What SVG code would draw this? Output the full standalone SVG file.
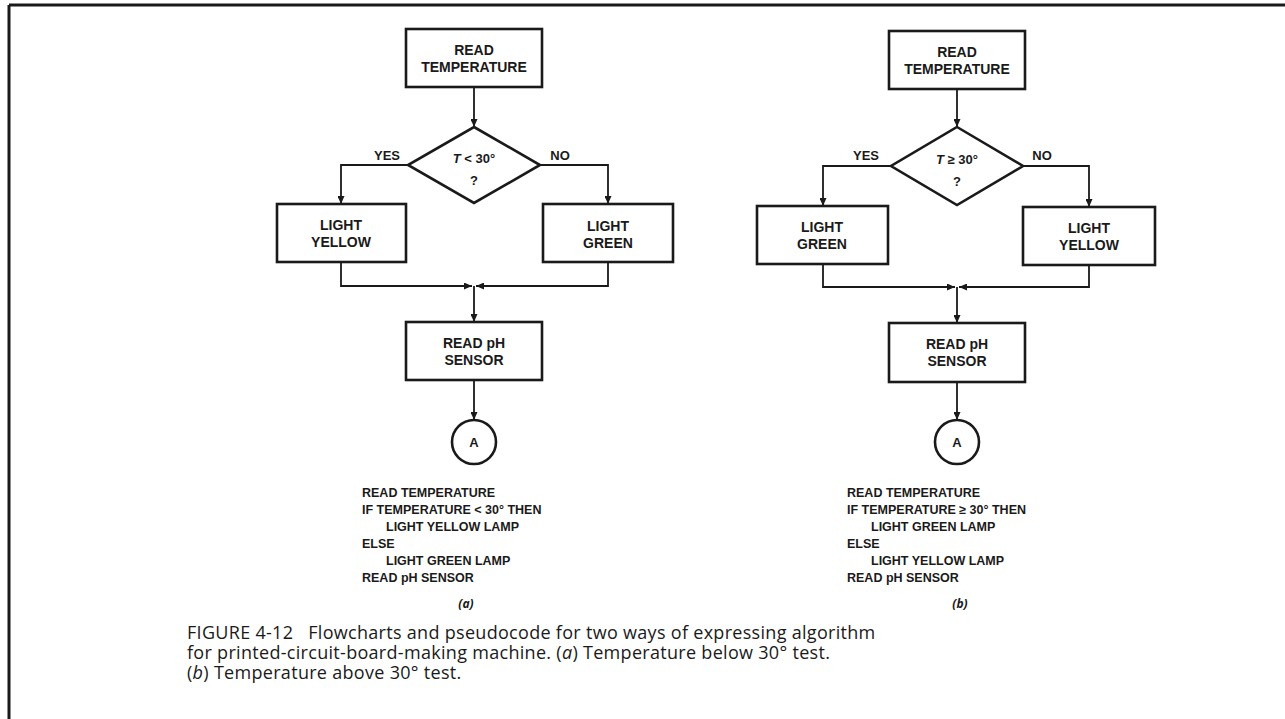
<svg xmlns="http://www.w3.org/2000/svg" width="1285" height="719" viewBox="0 0 1285 719">
<defs>
<marker id="ah" markerUnits="userSpaceOnUse" markerWidth="8" markerHeight="7" refX="8" refY="3.5" orient="auto">
<path d="M0,0 L8,3.5 L0,7 z" fill="#1a1a1a"/>
</marker>
<style>
.box{fill:#fff;stroke:#1a1a1a;stroke-width:2.6}
.ln{fill:none;stroke:#1a1a1a;stroke-width:1.8}
.lbl{font-family:"Liberation Sans",Arial,sans-serif;font-weight:bold;font-size:14px;fill:#1a1a1a;text-anchor:middle}
.yn{font-family:"Liberation Sans",Arial,sans-serif;font-weight:bold;font-size:13px;fill:#1a1a1a;text-anchor:middle}
.code{font-family:"Liberation Sans",Arial,sans-serif;font-weight:bold;font-size:12.5px;fill:#1a1a1a}
.cap{font-family:"Open Sans","Liberation Sans",sans-serif;font-size:18px;letter-spacing:0.3px;fill:#1a1a1a;white-space:pre}
.sub{font-family:"Open Sans","Liberation Sans",sans-serif;font-size:12px;font-style:italic;font-weight:bold;fill:#1a1a1a;text-anchor:middle}
</style>
</defs>
<rect x="0" y="0" width="1285" height="719" fill="#fff"/>
<g id="frame">
<line x1="9" y1="5" x2="1285" y2="5" stroke="#1a1a1a" stroke-width="3"/>
<line x1="9" y1="5" x2="9" y2="719" stroke="#1a1a1a" stroke-width="3"/>
</g>
<g id="connectors">
<line class="ln" x1="474" y1="87" x2="474" y2="127" marker-end="url(#ah)"/>
<polyline class="ln" points="408,165 341,165 341,204" marker-end="url(#ah)"/>
<polyline class="ln" points="540,165 608,165 608,204" marker-end="url(#ah)"/>
<polyline class="ln" points="341,262 341,286 472,286" marker-end="url(#ah)"/>
<polyline class="ln" points="608,262 608,286 476,286" marker-end="url(#ah)"/>
<line class="ln" x1="474" y1="286" x2="474" y2="322" marker-end="url(#ah)"/>
<line class="ln" x1="474" y1="380" x2="474" y2="420" marker-end="url(#ah)"/>
<line class="ln" x1="957" y1="89" x2="957" y2="127" marker-end="url(#ah)"/>
<polyline class="ln" points="891,166 823,166 823,206" marker-end="url(#ah)"/>
<polyline class="ln" points="1023,166 1089,166 1089,207" marker-end="url(#ah)"/>
<polyline class="ln" points="823,264 823,287 955,287" marker-end="url(#ah)"/>
<polyline class="ln" points="1089,265 1089,287 959,287" marker-end="url(#ah)"/>
<line class="ln" x1="957" y1="287" x2="957" y2="323" marker-end="url(#ah)"/>
<line class="ln" x1="957" y1="382" x2="957" y2="420" marker-end="url(#ah)"/>
</g>
<g id="a-read-temp"><rect class="box" x="406" y="29" width="136" height="58"/><text class="lbl" x="474" y="55">READ</text><text class="lbl" x="474" y="72">TEMPERATURE</text></g>
<g id="a-decision"><polygon class="box" points="474,127 540,165 474,203 408,165"/><text class="yn" x="474" y="163"><tspan font-style="italic">T</tspan> &lt; 30°</text><text class="yn" x="474" y="185">?</text></g>
<g id="a-yes"><text class="yn" x="387" y="160">YES</text></g>
<g id="a-no"><text class="yn" x="560" y="160">NO</text></g>
<g id="a-yellow"><rect class="box" x="277" y="204" width="129" height="58"/><text class="lbl" x="341" y="230">LIGHT</text><text class="lbl" x="341" y="247">YELLOW</text></g>
<g id="a-green"><rect class="box" x="543" y="204" width="130" height="58"/><text class="lbl" x="608" y="231">LIGHT</text><text class="lbl" x="608" y="248">GREEN</text></g>
<g id="a-ph"><rect class="box" x="406" y="322" width="136" height="58"/><text class="lbl" x="474" y="348">READ pH</text><text class="lbl" x="474" y="365">SENSOR</text></g>
<g id="a-conn"><circle class="box" cx="474" cy="442" r="22"/><text class="yn" x="474" y="447">A</text></g>
<g id="b-read-temp"><rect class="box" x="889" y="31" width="136" height="58"/><text class="lbl" x="957" y="57">READ</text><text class="lbl" x="957" y="74">TEMPERATURE</text></g>
<g id="b-decision"><polygon class="box" points="957,127 1023,166 957,205 891,166"/><text class="yn" x="957" y="164"><tspan font-style="italic">T</tspan> ≥ 30°</text><text class="yn" x="957" y="186">?</text></g>
<g id="b-yes"><text class="yn" x="866" y="160">YES</text></g>
<g id="b-no"><text class="yn" x="1042" y="160">NO</text></g>
<g id="b-green"><rect class="box" x="757" y="206" width="131" height="58"/><text class="lbl" x="822" y="232">LIGHT</text><text class="lbl" x="822" y="249">GREEN</text></g>
<g id="b-yellow"><rect class="box" x="1023" y="207" width="132" height="58"/><text class="lbl" x="1089" y="233">LIGHT</text><text class="lbl" x="1089" y="250">YELLOW</text></g>
<g id="b-ph"><rect class="box" x="889" y="323" width="136" height="59"/><text class="lbl" x="957" y="349">READ pH</text><text class="lbl" x="957" y="366">SENSOR</text></g>
<g id="b-conn"><circle class="box" cx="957" cy="442" r="22"/><text class="yn" x="957" y="447">A</text></g>
<g id="a-code">
<text class="code" x="362" y="497">READ TEMPERATURE</text>
<text class="code" x="362" y="514">IF TEMPERATURE &lt; 30° THEN</text>
<text class="code" x="386" y="531">LIGHT YELLOW LAMP</text>
<text class="code" x="362" y="548">ELSE</text>
<text class="code" x="386" y="565">LIGHT GREEN LAMP</text>
<text class="code" x="362" y="582">READ pH SENSOR</text>
<text class="sub" x="466" y="608">(a)</text>
</g>
<g id="b-code">
<text class="code" x="847" y="497">READ TEMPERATURE</text>
<text class="code" x="847" y="514">IF TEMPERATURE ≥ 30° THEN</text>
<text class="code" x="871" y="531">LIGHT GREEN LAMP</text>
<text class="code" x="847" y="548">ELSE</text>
<text class="code" x="871" y="565">LIGHT YELLOW LAMP</text>
<text class="code" x="847" y="582">READ pH SENSOR</text>
<text class="sub" x="960" y="608">(b)</text>
</g>
<g id="caption">
<text class="cap" x="187" y="639" xml:space="preserve">FIGURE 4-12   Flowcharts and pseudocode for two ways of expressing algorithm</text>
<text class="cap" x="187" y="659">for printed-circuit-board-making machine. (<tspan font-style="italic">a</tspan>) Temperature below 30° test.</text>
<text class="cap" x="187" y="679">(<tspan font-style="italic">b</tspan>) Temperature above 30° test.</text>
</g>
</svg>
